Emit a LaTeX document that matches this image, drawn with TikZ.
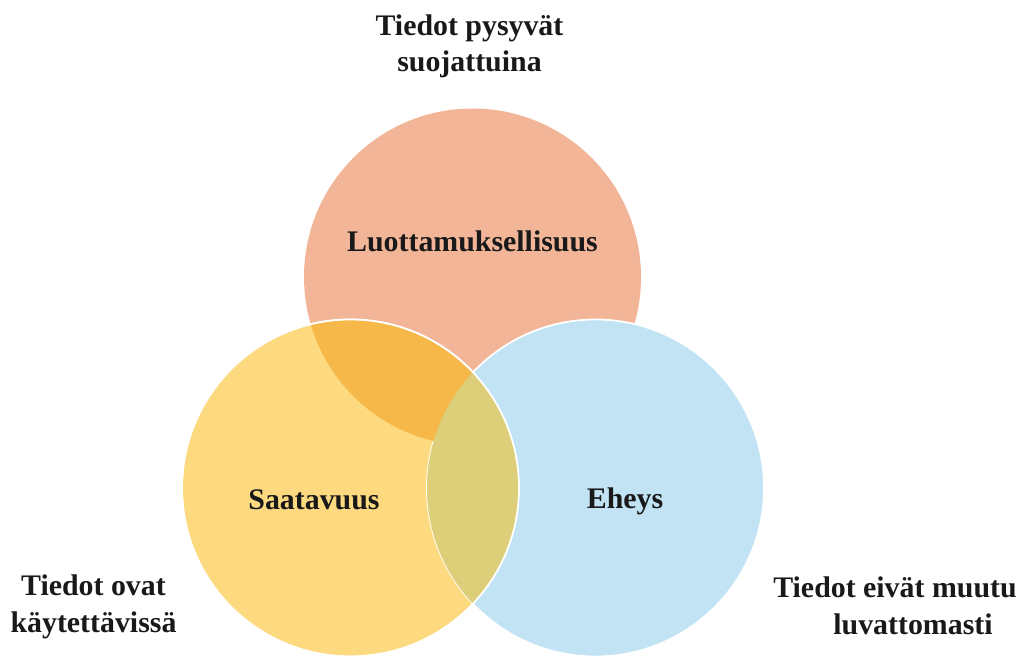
\documentclass[tikz,border=0pt]{standalone}
\usepackage{fontspec}
\setmainfont{Liberation Serif}
\definecolor{luottamus}{RGB}{242,181,151}
\definecolor{saatavuus}{RGB}{253,218,127}
\definecolor{eheys}{RGB}{193,227,244}
\definecolor{overlapLS}{RGB}{246,184,72}
\definecolor{overlapSE}{RGB}{221,206,121}
\tikzset{
  setedge/.style={draw=white, line width=1pt},
  setname/.style={font=\fontsize{17}{21}\selectfont\bfseries, text=black!90, inner sep=0pt},
  setnote/.style={font=\fontsize{17}{21}\selectfont\bfseries, text=black!90, inner sep=0pt, align=center}
}
\begin{document}
\begin{tikzpicture}[x=0.02cm,y=0.02cm]
  \useasboundingbox (0,0) rectangle (1018,657);
  %% circle centres
  \coordinate (cL) at (472.5,380);
  \coordinate (cS) at (350.5,169);
  \coordinate (cE) at (595.5,169);
  \def\rad{168.5}
  %% circles
  \fill[luottamus] (cL) circle (\rad);
  \path[fill=saatavuus,setedge] (cS) circle (\rad);
  \path[fill=eheys,setedge] (cE) circle (\rad);
  %% overlaps
  \begin{scope}
    \clip (cL) circle (\rad);
    \fill[overlapLS] (cS) circle (\rad);
  \end{scope}
  \begin{scope}
    \clip (cS) circle (\rad);
    \fill[overlapSE] (cE) circle (\rad);
  \end{scope}
  \draw[setedge] (cS) circle (\rad);
  %% names
  \node[setname,anchor=base] (nL) at (472.5,406) {Luottamuksellisuus};
  \node[setname,anchor=base] (nS) at (314,148) {Saatavuus};
  \node[setname,anchor=base] (nE) at (625,149) {Eheys};
  %% notes
  \node[setnote,anchor=base] (tL) at (469.5,585) {Tiedot pysyvät\\suojattuina};
  \node[setnote,anchor=base] (tS) at (93.5,25) {Tiedot ovat\\käytettävissä};
  \node[setname,anchor=base] (tE1) at (895,60) {Tiedot eivät muutu};
  \node[setname,anchor=base] (tE2) at (913,23) {luvattomasti};
\end{tikzpicture}
\end{document}
